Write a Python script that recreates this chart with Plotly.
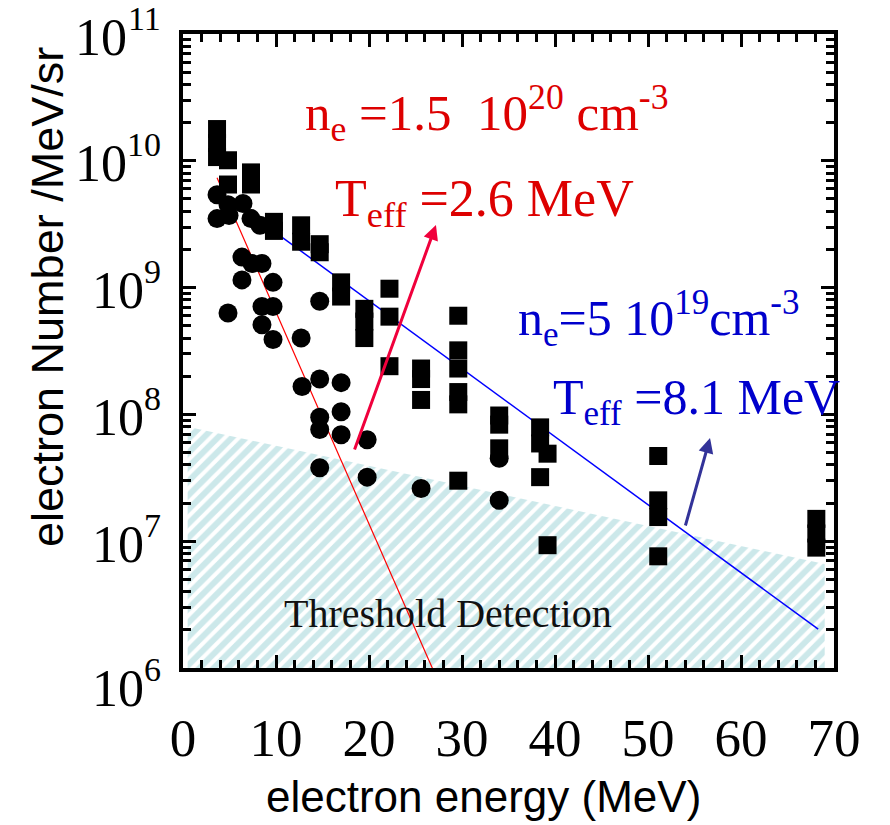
import numpy as np
import plotly.graph_objects as go

# ---- measured spectra ----
# high-density shot (squares)
sq_energy = [3.66, 3.66, 3.66, 4.84, 4.84, 7.31, 7.31, 9.78, 9.78, 12.7, 12.7,
             14.7, 14.7, 17.0, 17.0, 19.5, 19.5, 19.5, 22.2, 22.2, 22.2,
             25.6, 25.6, 25.6, 29.6, 29.6, 29.6, 29.6, 29.6, 29.6,
             34.0, 34.0, 34.0, 38.4, 38.4, 38.4, 39.2, 39.2,
             51.1, 51.1, 51.1, 51.1, 68.1, 68.1, 68.1]
sq_number = [1.78e10, 1.38e10, 1.07e10, 1.01e10, 6.5e9, 8.1e9, 6.5e9, 3.3e9, 2.8e9,
             3.1e9, 2.3e9, 2.2e9, 1.9e9, 1.1e9, 8.5e8, 6.8e8, 5.4e8, 4.0e8,
             9.8e8, 5.9e8, 2.4e8, 2.3e8, 1.9e8, 1.3e8,
             6.0e8, 3.2e8, 2.3e8, 1.5e8, 1.2e8, 3.0e7,
             9.8e7, 8.3e7, 5.4e7, 7.9e7, 5.9e7, 3.2e7, 4.9e7, 9.3e6,
             4.7e7, 2.1e7, 1.55e7, 7.6e6, 1.5e7, 1.15e7, 8.9e6]

# low-energy shot (circles)
ci_energy = [3.66, 4.84, 3.66, 4.95, 6.45, 7.31, 8.28, 6.34, 7.42, 8.49, 6.34,
             9.68, 4.84, 8.49, 9.68, 14.7, 8.49, 9.68, 12.7, 14.7, 12.8, 17.0,
             14.7, 17.0, 14.7, 17.0, 19.8, 14.7, 19.8, 25.6, 34.0, 34.0]
ci_number = [5.4e9, 4.5e9, 3.5e9, 3.7e9, 4.6e9, 3.5e9, 3.1e9, 1.74e9, 1.55e9, 1.55e9,
             1.15e9, 1.1e9, 6.3e8, 7.1e8, 7.1e8, 7.8e8, 5.1e8, 3.9e8, 4.0e8, 1.9e8,
             1.66e8, 1.78e8, 9.5e7, 1.05e8, 7.6e7, 6.9e7, 6.3e7, 3.8e7, 3.2e7,
             2.6e7, 2.1e7, 4.5e7]

# exponential fits  N = A exp(-E / T_eff)
red_T, red_A, red_range = 2.6, 3.0e10, [3.66, 28.0]
blue_T, blue_A, blue_range = 8.1, 9.3e9, [10.0, 68.3]

# detection threshold (upper edge of hatched band)
thr_energy = [0.5, 69.0]
thr_number = [8.0e7, 6.6e6]
floor_number = 1e6

x_ticks = [0, 10, 20, 30, 40, 50, 60, 70]
y_exponents = [6, 7, 8, 9, 10, 11]

SERIF = "Liberation Serif"
SANS = "Liberation Sans"

fig = go.Figure()

# hatched threshold band
fig.add_trace(go.Scatter(
    x=[thr_energy[0], thr_energy[0], thr_energy[1], thr_energy[1]],
    y=[floor_number, thr_number[0], thr_number[1], floor_number],
    mode="lines", fill="toself", line=dict(width=0),
    fillcolor="rgba(0,0,0,0)",
    fillpattern=dict(shape="/", fgcolor="#9ad1d6", bgcolor="white",
                     size=10, solidity=0.6),
    hoverinfo="skip"))

# fit lines
e_red = np.linspace(red_range[0], red_range[1], 60)
fig.add_trace(go.Scatter(x=e_red, y=red_A * np.exp(-e_red / red_T), mode="lines",
                         line=dict(color="#ff0000", width=1.2)))
e_blue = np.linspace(blue_range[0], blue_range[1], 60)
fig.add_trace(go.Scatter(x=e_blue, y=blue_A * np.exp(-e_blue / blue_T), mode="lines",
                         line=dict(color="#0000ff", width=1.5)))

# data points
fig.add_trace(go.Scatter(x=ci_energy, y=ci_number, mode="markers",
                         marker=dict(symbol="circle", size=19, color="black",
                                     line=dict(width=0))))
fig.add_trace(go.Scatter(x=sq_energy, y=sq_number, mode="markers",
                         marker=dict(symbol="square", size=18, color="black",
                                     line=dict(width=0))))

# invisible trace that carries the mirrored (top / right) tick axes
fig.add_trace(go.Scatter(x=[0], y=[1e6], xaxis="x2", yaxis="y2", mode="markers",
                         marker=dict(opacity=0), hoverinfo="skip"))

# plot area in pixels: x 183..834, y 34..668
L, R, T, B = 183, 834, 34, 668


def px(xp, yp):
    return (xp - L) / (R - L), (B - yp) / (B - T)


def label(text, xp, yp, color, size, anchor="left", angle=0, family=SERIF):
    xx, yy = px(xp, yp)
    fig.add_annotation(xref="paper", yref="paper", x=xx, y=yy, text=text,
                       showarrow=False, xanchor=anchor, yanchor="middle",
                       textangle=angle,
                       font=dict(family=family, size=size, color=color))


RED = "#dd0000"
BLUE = "#0000cc"
label("n<sub>e</sub> =1.5  10<sup>20</sup> cm<sup>-3</sup>", 303, 113, RED, 51)
label("T<sub>eff</sub> =2.6 MeV", 333, 202, RED, 52)
label("n<sub>e</sub>=5 10<sup>19</sup>cm<sup>-3</sup>", 516, 318, BLUE, 50)
label("T<sub>eff</sub> =8.1 MeV", 551, 401, BLUE, 50)
label("Threshold Detection", 448, 613, "#111111", 40, anchor="center")

# axis titles
label("electron energy (MeV)", 483, 796, "black", 44, anchor="center", family=SANS)
label("electron Number /MeV/sr", 47, 297, "black", 45, anchor="center",
      angle=-90, family=SANS)

# decade labels on the log axis: mantissa "10" plus a raised exponent
for e in y_exponents:
    exp_w = 17 * len(str(e))
    shift = -20 if e == 6 else -3
    fig.add_annotation(xref="paper", yref="y", x=px(163, 0)[0], y=e,
                       text=str(e), showarrow=False, xanchor="right",
                       yanchor="middle", yshift=shift + 19,
                       font=dict(family=SERIF, size=34, color="black"))
    fig.add_annotation(xref="paper", yref="y", x=px(163 - exp_w, 0)[0], y=e,
                       text="10", showarrow=False, xanchor="right",
                       yanchor="middle", yshift=shift,
                       font=dict(family=SERIF, size=52, color="black"))

# arrows pointing at the fit labels
fig.add_annotation(x=27.2, y=9.494, ax=18.39, ay=7.711, xref="x", yref="y",
                   axref="x", ayref="y", text="", showarrow=True,
                   arrowhead=2, arrowsize=1.0, arrowwidth=3, arrowcolor="#f0003c")
fig.add_annotation(x=56.67, y=7.814, ax=53.98, ay=7.112, xref="x", yref="y",
                   axref="x", ayref="y", text="", showarrow=True,
                   arrowhead=2, arrowsize=1.0, arrowwidth=3, arrowcolor="#333399")

axis_common = dict(showline=True, linewidth=4, linecolor="black",
                   ticks="inside", ticklen=13, tickwidth=3, tickcolor="black",
                   showgrid=False, zeroline=False)
x_minor = dict(dtick=2, ticks="inside", ticklen=8, tickwidth=3,
               tickcolor="black", showgrid=False)
# log minor ticks at 2..9 of every decade
y_minor_vals = [m * 10.0 ** e for e in y_exponents[:-1] for m in range(2, 10)]
y_minor = dict(tickvals=y_minor_vals, ticks="inside", ticklen=8, tickwidth=3,
               tickcolor="black", showgrid=False)
y_range = [6, 11]

fig.update_layout(
    xaxis=dict(range=[0, 70], tickvals=x_ticks,
               ticktext=[str(v) for v in x_ticks], minor=x_minor,
               tickfont=dict(family=SERIF, size=53, color="black"),
               ticklabelstandoff=20, **axis_common),
    yaxis=dict(type="log", range=y_range,
               tickvals=[10.0 ** e for e in y_exponents],
               showticklabels=False, minor=y_minor, **axis_common),
    xaxis2=dict(overlaying="x", side="top", matches="x", range=[0, 70],
                tickvals=x_ticks, showticklabels=False, minor=x_minor,
                **axis_common),
    yaxis2=dict(overlaying="y", side="right", type="log", range=y_range,
                tickvals=[10.0 ** e for e in y_exponents],
                showticklabels=False, minor=y_minor, **axis_common),
    width=890, height=825, showlegend=False,
    margin=dict(l=L, r=890 - R, t=T, b=825 - B),
    plot_bgcolor="white", paper_bgcolor="white")

fig.write_html("out.html")
